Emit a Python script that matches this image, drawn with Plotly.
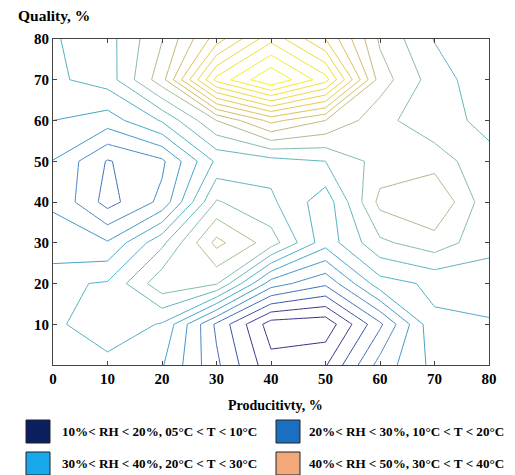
import plotly.graph_objects as go

# grid coordinates
x_vals = [0, 10, 20, 30, 40, 50, 60, 70, 80]
y_vals = [0, 10, 20, 30, 40, 50, 60, 70, 80]

# z values, rows from y=0 to y=80 (columns x=0..80)
z_y0  = [7.5, 7.67, 7.1, 4.2, 1.32, 1.9, 5.4, 7.3, 7.6]
z_y10 = [7.77, 8.7, 7.9, 3.8, 0.5, 0.3, 3.8, 7.85, 7.9]
z_y20 = [7.81, 8.1, 10.7, 10.1, 5.5, 4.2, 7.6, 8.2, 8.5]
z_y30 = [6.15, 6.1, 8.74, 12.3, 10.5, 7.4, 9.8, 10.57, 9.3]
z_y40 = [5.95, 3.6, 5.27, 10.1, 9.2, 7.4, 11.3, 12.0, 9.3]
z_y50 = [5.97, 3.92, 4.8, 8.2, 8.6, 9.0, 10.4, 10.57, 9.2]
z_y60 = [7.0, 6.5, 8.1, 11.0, 13.3, 12.0, 10.34, 9.3, 8.8]
z_y70 = [7.8, 8.45, 11.6, 18.3, 21.0, 18.4, 11.5, 9.5, 8.3]
z_y80 = [7.9, 8.6, 10.95, 14.5, 17.7, 15.0, 10.83, 8.95, 8.5]

z_grid = [z_y0, z_y10, z_y20, z_y30, z_y40, z_y50, z_y60, z_y70, z_y80]

x_ticks = [0, 10, 20, 30, 40, 50, 60, 70, 80]
y_ticks = [10, 20, 30, 40, 50, 60, 70, 80]

legend_labels = [
    "10%< RH < 20%, 05°C < T < 10°C",
    "20%< RH < 30%, 10°C < T < 20°C",
    "30%< RH < 40%, 20°C < T < 30°C",
    "40%< RH < 50%, 30°C < T < 40°C",
]
legend_colors = ["#0b1f5e", "#1a6fc1", "#19a9ea", "#f2a878"]

# parula-like line colours (z range 0..21, levels 1..20)
line_scale = [
    [0.000, "#3a2f8a"],
    [0.048, "#3b338f"],
    [0.095, "#3a4aa8"],
    [0.143, "#3c66b8"],
    [0.190, "#4a80bd"],
    [0.238, "#4490c4"],
    [0.286, "#3f9dc8"],
    [0.333, "#42a9c7"],
    [0.381, "#4fb2c3"],
    [0.429, "#62b7bb"],
    [0.476, "#84bba9"],
    [0.524, "#a8bb8e"],
    [0.571, "#c3b87a"],
    [0.619, "#cfbb66"],
    [0.667, "#d9bf58"],
    [0.714, "#e2c54e"],
    [0.762, "#e8cc46"],
    [0.810, "#edd43e"],
    [0.857, "#f0dc36"],
    [0.905, "#f2e42e"],
    [0.952, "#f4ec28"],
    [1.000, "#f5f222"],
]

FONT = "Liberation Serif"

# the page body has an 8px margin: work in figure px = window px - 8
OFF = 8
W, H = 515 - OFF, 475 - OFF
PL, PR, PT, PB = 53 - OFF, 489 - OFF, 39 - OFF, 365 - OFF

fig = go.Figure()
fig.add_trace(go.Contour(
    x=x_vals, y=y_vals, z=z_grid,
    colorscale=line_scale, zmin=0, zmax=21,
    contours=dict(start=1, end=20, size=1, coloring="lines"),
    line=dict(width=1, smoothing=0),
    showscale=False,
    hoverinfo="skip",
))

fig.update_layout(
    width=W, height=H,
    margin=dict(l=PL, r=W - PR, t=PT, b=H - PB, pad=0),
    paper_bgcolor="white", plot_bgcolor="white",
    showlegend=False,
    font=dict(family=FONT, size=15, color="black"),
)
fig.update_xaxes(
    range=[0, 80], tickvals=x_ticks, ticktext=[f"<b>{v}</b>" for v in x_ticks],
    ticks="inside", ticklen=4, tickcolor="#444", showline=True, linecolor="#444",
    linewidth=1, mirror="ticks", showgrid=False, zeroline=False,
    tickfont=dict(family=FONT, size=15),
)
fig.update_yaxes(
    range=[0, 80], tickvals=y_ticks, ticktext=[f"<b>{v}</b>" for v in y_ticks],
    ticks="inside", ticklen=4, tickcolor="#444", showline=True, linecolor="#444",
    linewidth=1, mirror="ticks", showgrid=False, zeroline=False,
    tickfont=dict(family=FONT, size=15),
)

pw = PR - PL
ph = PB - PT
def px2x(px):
    return (px - OFF - PL) / pw
def py2y(py):
    return (PB - (py - OFF)) / ph

fig.add_annotation(text="<b>Quality, %</b>", xref="paper", yref="paper",
                   x=px2x(16), y=py2y(16), xanchor="left", yanchor="middle",
                   showarrow=False, font=dict(family=FONT, size=15.5))
fig.add_annotation(text="<b>Producitivty, %</b>", xref="paper", yref="paper",
                   x=px2x(275), y=py2y(405), xanchor="center", yanchor="middle",
                   showarrow=False, font=dict(family=FONT, size=14))

# legend drawn as boxes + text under the plot
box_pos = [(26, 420), (276, 420), (26, 452), (276, 452)]
text_gap = [34, 31, 34, 31]
for (bx, by), gap, col, lab in zip(box_pos, text_gap, legend_colors, legend_labels):
    fig.add_shape(type="rect", xref="paper", yref="paper",
                  x0=px2x(bx), x1=px2x(bx + 24), y0=py2y(by + 23), y1=py2y(by),
                  fillcolor=col, line=dict(color="#222", width=1))
    fig.add_annotation(text=f"<b>{lab}</b>", xref="paper", yref="paper",
                       x=px2x(bx + gap), y=py2y(by + 11), xanchor="left",
                       yanchor="middle", showarrow=False,
                       font=dict(family=FONT, size=13.1))

fig.write_html("out.html")
